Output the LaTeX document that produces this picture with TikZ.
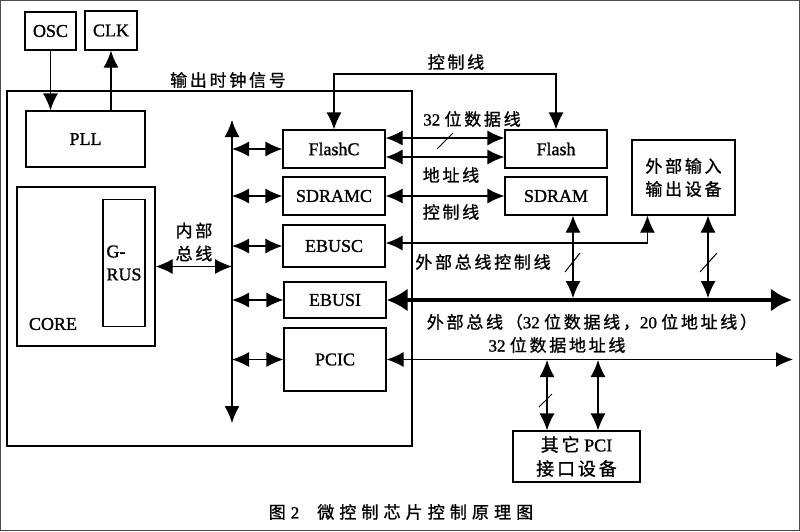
\documentclass[tikz,border=0pt]{standalone}
\usepackage{fontspec}
\setmainfont{Liberation Serif}
\newfontfamily\latfont{Liberation Serif}[FakeBold=1.2]
\newfontfamily\cjkfont[LetterSpace=16,FakeBold=1]{Noto Sans CJK SC}
\newcommand\zh[1]{{\cjkfont #1}}
\usetikzlibrary{arrows.meta,calc}
\begin{document}
\begin{tikzpicture}[x=1pt,y=-1pt,
  box/.style={draw, line width=1.2pt, inner sep=0pt, font=\latfont\fontsize{18}{20}\selectfont},
  arr2/.style={line width=1.2pt, {Latex[length=17pt,width=15pt]}-{Latex[length=17pt,width=15pt]}},
  arr1/.style={line width=1.2pt, -{Latex[length=17pt,width=15pt]}},
  bigbus/.style={line width=4pt, {Latex[length=21pt,width=23pt]}-{Latex[length=21pt,width=23pt]}},
  slash/.style={line width=1pt},
  lbl/.style={inner sep=0pt, font=\latfont\fontsize{17}{23}\selectfont},
]
\useasboundingbox (0,0) rectangle (800,531);
\draw[line width=1pt, black!70] (0.5,0.5) rectangle (799.5,530.5);

% boxes
\node[box, minimum width=51pt, minimum height=38pt] (osc) at (50.5,31) {OSC};
\node[box, minimum width=52pt, minimum height=39pt] (clk) at (111,30.5) {CLK};
\node[box, minimum width=405pt, minimum height=355pt] (chip) at (209.5,268.5) {};
\node[box, minimum width=119pt, minimum height=56pt] (pll) at (85.5,139) {PLL};
\node[box, minimum width=138pt, minimum height=159pt] (core) at (86,266.5) {};
\node[lbl, font=\latfont\fontsize{18}{20}\selectfont] (corelbl) at (53,324) {CORE};
\node[box, minimum width=42pt, minimum height=127pt, align=left, font=\latfont\fontsize{18}{23}\selectfont] (gbus) at (124,263) {G-\\RUS};

\node[box, minimum width=102pt, minimum height=38pt] (fc) at (334,149) {FlashC};
\node[box, minimum width=102pt, minimum height=38pt] (sc) at (334,196) {SDRAMC};
\node[box, minimum width=102pt, minimum height=42pt] (ec) at (334,246) {EBUSC};
\node[box, minimum width=102pt, minimum height=36pt] (ei) at (335,300) {EBUSI};
\node[box, minimum width=102pt, minimum height=63pt] (pc) at (335,359.5) {PCIC};

\node[box, minimum width=102pt, minimum height=38pt] (fl) at (556,149) {Flash};
\node[box, minimum width=102pt, minimum height=38pt] (sd) at (556,196) {SDRAM};
\node[box, minimum width=103pt, minimum height=75pt, align=center, font=\cjkfont\fontsize{17}{23}\selectfont] (dev) at (683.5,177.5) {外部输入\\输出设备};
\node[box, minimum width=127pt, minimum height=51pt, align=center, font=\latfont\fontsize{18}{24}\selectfont] (pd) at (576.5,456.5) {\zh{其它} PCI\\\zh{接口设备}};

% internal bus
\coordinate (bt) at (232,120);
\coordinate (bb) at (232,423);
\draw[arr2] (bb) -- (bt);
\draw[arr2] (fc.west -| bt) -- (fc.west);
\draw[arr2] (sc.west -| bt) -- (sc.west);
\draw[arr2] (ec.west -| bt) -- (ec.west);
\draw[arr2] (ei.west -| bt) -- (ei.west);
\draw[arr2] (pc.west -| bt) -- (pc.west);
\draw[arr2] (core.east) -- (core.east -| bt);

% clock
\draw[arr1] (osc.south) -- (osc.south |- pll.north);
\draw[arr1] (pll.north -| clk.south) -- (clk.south);

% flash control
\coordinate (ctl) at (445,74);
\draw[arr2] (fc.north) |- (ctl) -| (fl.north);
\draw[arr2] ($(fc.east)+(0,-11)$) -- ($(fl.west)+(0,-11)$);
\draw[arr2] ($(fc.east)+(0,8)$) -- ($(fl.west)+(0,8)$);
\draw[slash] (437,149) -- (453,133);
\draw[arr2] (sc.east) -- (sd.west);
\draw[arr2] ($(ec.east)+(0,-3)$) -| ($(dev.south west)+(16,0)$);

% external bus
\coordinate (busR) at (792,300);
\draw[bigbus] (ei.east) -- (busR);
\coordinate (v1) at ($(sd.south)+(17,0)$);
\coordinate (v2) at ($(dev.south)+(24.5,0)$);
\draw[arr2] (v1) -- ($(v1 |- busR)+(0,-2)$);
\draw[arr2] (v2) -- ($(v2 |- busR)+(0,-2)$);
\draw[slash] (565,272) -- (580,253);
\draw[slash] (700,272) -- (717,253);

% PCI bus
\coordinate (pciR) at (793,360);
\draw[arr2] (pc.east) -- (pc.east -| pciR);
\coordinate (p1) at ($(pd.north)+(-29.5,0)$);
\coordinate (p2) at ($(pd.north)+(21.5,0)$);
\draw[arr2] (p1 |- pciR) -- (p1);
\draw[arr2] (p2 |- pciR) -- (p2);
\draw[slash] (539,407) -- (552,394);

% labels
\node[lbl] (t1) at (228,80) {\zh{输出时钟信号}};
\node[lbl] (t2) at (456,62) {\zh{控制线}};
\node[lbl] (t3) at (472,119) {32 \zh{位数据线}};
\node[lbl] (t4) at (451,175) {\zh{地址线}};
\node[lbl] (t5) at (451,212) {\zh{控制线}};
\node[lbl] (t6) at (483,262) {\zh{外部总线控制线}};
\node[lbl, align=center] (t7) at (194,242) {\zh{内部}\\\zh{总线}};
\node[lbl] (t8) at (592,322) {\zh{外部总线（}32 \zh{位数据线，}20 \zh{位地址线）}};
\node[lbl] (t9) at (557,345) {32 \zh{位数据地址线}};
\node[lbl] (t10) at (401,512) {\zh{图}\hspace{5pt}2\hspace{18pt}{\cjkfont\addfontfeature{LetterSpace=30}微控制芯片控制原理图}};
\end{tikzpicture}
\end{document}
